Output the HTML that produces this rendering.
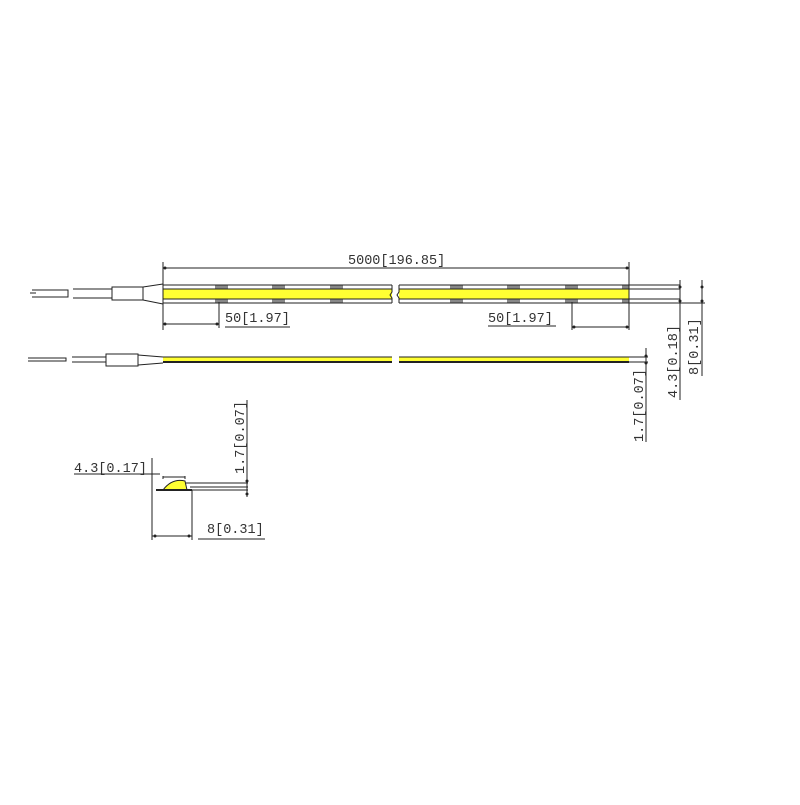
<!DOCTYPE html>
<html><head><meta charset="utf-8"><style>html,body{margin:0;padding:0;background:#fff}</style></head>
<body>
<svg width="800" height="800" viewBox="0 0 800 800" xmlns="http://www.w3.org/2000/svg" font-family="Liberation Mono, monospace" font-size="13.5" fill="#333">
<g stroke="#222" stroke-width="1" fill="none">
<rect x="163" y="289" width="229" height="10" fill="#ffff33" stroke="none"/>
<rect x="399" y="289" width="230" height="10" fill="#ffff33" stroke="none"/>
<g fill="#888" stroke="none">
<rect x="215" y="285" width="13" height="4"/><rect x="215" y="299" width="13" height="4"/>
<rect x="272" y="285" width="13" height="4"/><rect x="272" y="299" width="13" height="4"/>
<rect x="330" y="285" width="13" height="4"/><rect x="330" y="299" width="13" height="4"/>
<rect x="450" y="285" width="13" height="4"/><rect x="450" y="299" width="13" height="4"/>
<rect x="507" y="285" width="13" height="4"/><rect x="507" y="299" width="13" height="4"/>
<rect x="565" y="285" width="13" height="4"/><rect x="565" y="299" width="13" height="4"/>
<rect x="622" y="285" width="7" height="4"/><rect x="622" y="299" width="7" height="4"/>
</g>
<path d="M163 285H392M163 289H392M163 299H392M163 303H392M399 285H680M399 289H680M399 299H680M399 303H705"/>
<path d="M392 285v7l-2 3l2 3v5M399 285v7l-2 3l2 3v5"/>
<path d="M163 262V330M629 262V330"/>
<path d="M32 290H68V297H32M30 293H36M73 289H112M73 298H112"/>
<rect x="112" y="287" width="31" height="13"/>
<path d="M143 287L163 284M143 300L163 304"/>
<path d="M163 268H629M219 302V328M163 324H219M225 327H290M572 302V330M572 327H629M488 326H556"/>
<path d="M680 280V400M702 280V376"/>
<rect x="163" y="357" width="229" height="4" fill="#ffff33" stroke="none"/>
<rect x="399" y="357" width="230" height="4" fill="#ffff33" stroke="none"/>
<path d="M163 357H392M399 357H648M163 362H392M399 362H648" />
<path d="M163 362H392M399 362H629" stroke-width="2"/>
<path d="M28 358H66V361H28M72 357H106M72 362H106"/>
<rect x="106" y="354" width="32" height="12"/>
<path d="M138 355L163 357M138 365L163 363"/>
<path d="M646 348V442"/>
<path d="M163 490Q172 478 185 481L187 490Z" fill="#ffff33"/>
<path d="M156 490H192" stroke-width="2"/>
<path d="M163 479V476M185 479V476M163 477H185M185 483H248M190 487H248M192 490H248M247 400V497"/>
<path d="M152 458V540M192 490V540M152 536H192M198 539H265M74 474H160"/>
</g>
<g fill="#222">
<circle cx="165" cy="268" r="1.5"/><circle cx="627" cy="268" r="1.5"/>
<circle cx="165" cy="324" r="1.5"/><circle cx="217" cy="324" r="1.5"/>
<circle cx="574" cy="327" r="1.5"/><circle cx="627" cy="327" r="1.5"/>
<circle cx="680" cy="287" r="1.5"/><circle cx="680" cy="301" r="1.5"/>
<circle cx="702" cy="287" r="1.5"/><circle cx="702" cy="301" r="1.5"/>
<circle cx="646" cy="356" r="1.5"/><circle cx="646" cy="363" r="1.5"/>
<circle cx="247" cy="481" r="1.5"/><circle cx="247" cy="494" r="1.5"/>
<circle cx="155" cy="536" r="1.5"/><circle cx="189" cy="536" r="1.5"/>
</g>
<text x="348" y="264">5000[196.85]</text>
<text x="225" y="322">50[1.97]</text>
<text x="488" y="322">50[1.97]</text>
<text transform="translate(677,398) rotate(-90)">4.3[0.18]</text>
<text transform="translate(698,375) rotate(-90)">8[0.31]</text>
<text transform="translate(643,442) rotate(-90)">1.7[0.07]</text>
<text transform="translate(244,474) rotate(-90)">1.7[0.07]</text>
<text x="74" y="472">4.3[0.17]</text>
<text x="207" y="533">8[0.31]</text>
</svg>
</body></html>
